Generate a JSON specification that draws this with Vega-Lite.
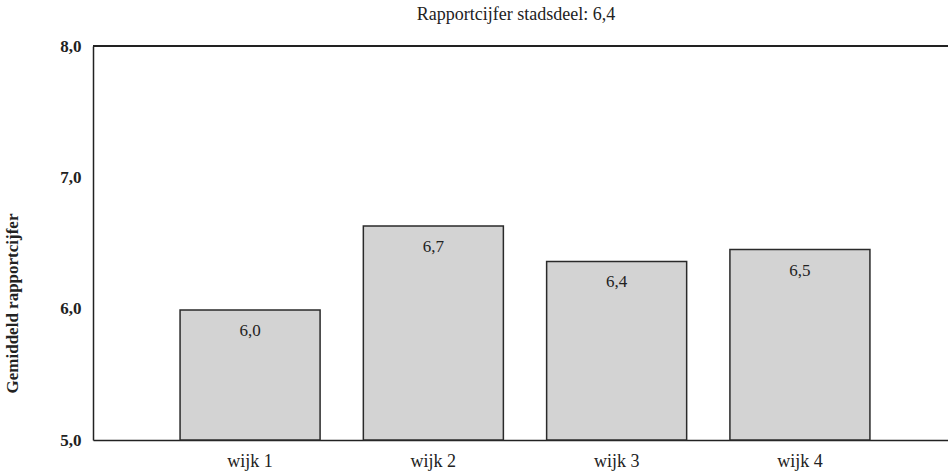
{
  "$schema": "https://vega.github.io/schema/vega-lite/v6.json",
  "width": 864,
  "height": 394,
  "autosize": {"type": "none"},
  "padding": {"left": 93, "top": 46, "right": -9, "bottom": 35},
  "background": "#ffffff",
  "config": {"view": {"stroke": null}, "font": "Liberation Serif"},
  "title": {"text": "Rapportcijfer stadsdeel: 6,4", "font": "Liberation Serif", "fontSize": 18, "fontWeight": "normal", "color": "#222222", "offset": 13, "dx": -9},
  "data": {"values": [
    {"wijk": "wijk 1", "cijfer": 5.99, "label": "6,0"},
    {"wijk": "wijk 2", "cijfer": 6.63, "label": "6,7"},
    {"wijk": "wijk 3", "cijfer": 6.36, "label": "6,4"},
    {"wijk": "wijk 4", "cijfer": 6.45, "label": "6,5"}
  ]},
  "layer": [
    {
      "mark": {"type": "bar", "fill": "#d3d3d3", "stroke": "#2a2a2a", "strokeWidth": 1.5},
      "encoding": {
        "x": {"field": "wijk", "type": "nominal", "sort": null,
              "scale": {"paddingInner": 0.236, "paddingOuter": 0.475},
              "axis": {"title": null, "labelAngle": 0, "ticks": false, "labelFontSize": 18, "labelColor": "#222222", "labelPadding": 12, "domainColor": "#222222", "domainWidth": 1.5, "labelFont": "Liberation Serif"}},
        "y": {"field": "cijfer", "type": "quantitative",
              "scale": {"domain": [5, 8], "zero": false, "nice": false},
              "axis": {"title": "Gemiddeld rapportcijfer", "values": [5, 6, 7, 8], "grid": false, "ticks": false,
                       "labelExpr": "replace(format(datum.value, '.1f'), '.', ',')",
                       "labelFontSize": 17, "labelFontWeight": "bold", "labelColor": "#222222", "labelPadding": 12,
                       "titleFontSize": 17, "titleFontWeight": "bold", "titleColor": "#222222", "titlePadding": 38, "titleY": 257,
                       "domainColor": "#222222", "domainWidth": 1.5, "labelFont": "Liberation Serif", "titleFont": "Liberation Serif"}},
        "y2": {"datum": 5}
      }
    },
    {
      "mark": {"type": "text", "baseline": "top", "dy": 13, "fontSize": 17, "color": "#222222", "font": "Liberation Serif"},
      "encoding": {
        "x": {"field": "wijk", "type": "nominal", "sort": null},
        "y": {"field": "cijfer", "type": "quantitative"},
        "text": {"field": "label"}
      }
    },
    {
      "mark": {"type": "rule", "color": "#222222", "strokeWidth": 1.5},
      "encoding": {"y": {"datum": 8}}
    }
  ]
}
